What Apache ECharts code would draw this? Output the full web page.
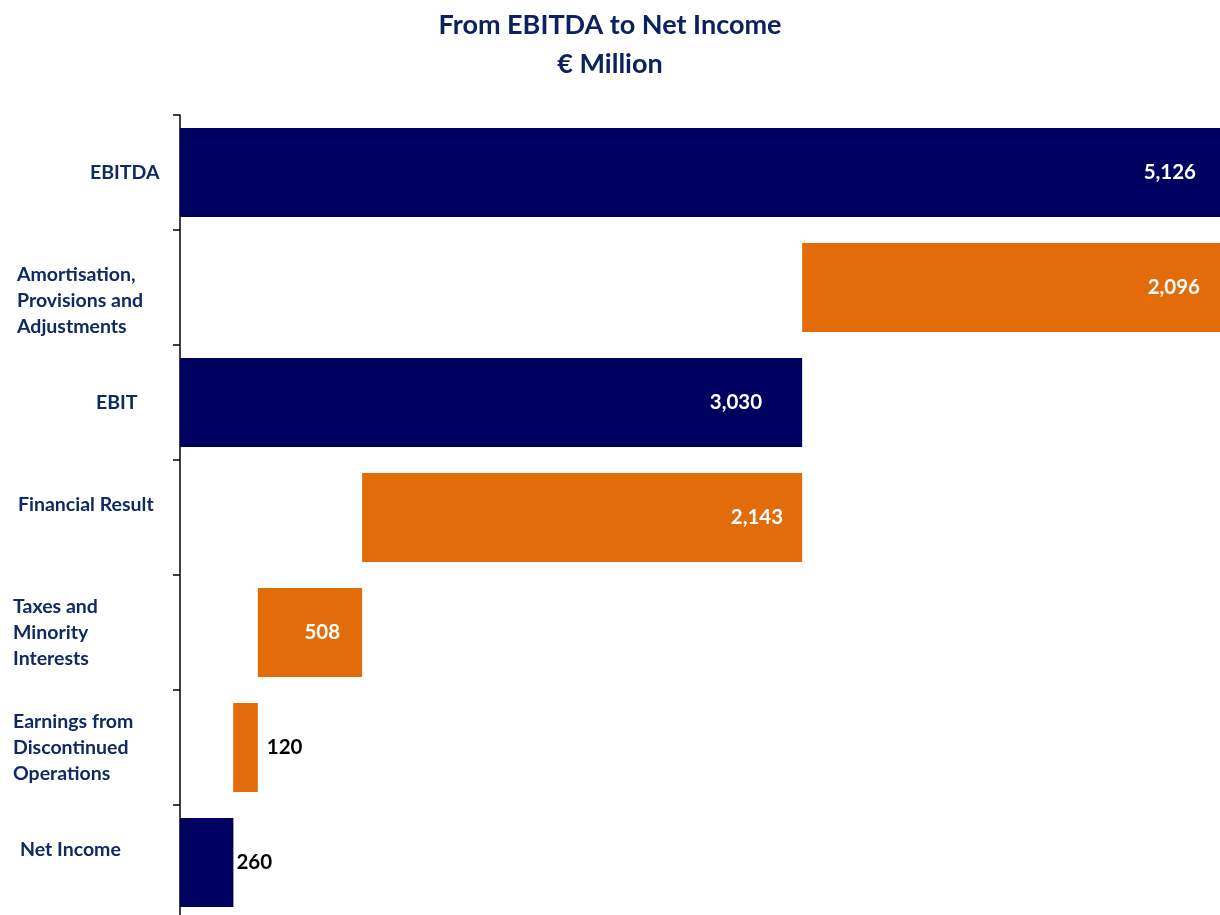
<!DOCTYPE html>
<html>
<head>
<meta charset="utf-8">
<title>From EBITDA to Net Income</title>
<script src="https://cdn.jsdelivr.net/npm/echarts@6/dist/echarts.min.js"></script>
<style>
  html, body { margin: 0; padding: 0; background: #fff; }
  #chart { width: 1220px; height: 915px; }
</style>
</head>
<body>
<div id="chart"></div>
<script>
// categories, top to bottom
const categories = [
  'EBITDA',
  'Amortisation,\nProvisions and\nAdjustments',
  'EBIT',
  'Financial Result',
  'Taxes and\nMinority\nInterests',
  'Earnings from\nDiscontinued\nOperations',
  'Net Income'
];
// step values (€ million)
const values = [5126, 2096, 3030, 2143, 508, 120, 260];
// 'total' bars start at zero, 'minus' bars step down from the running total
const kinds = ['total', 'minus', 'total', 'minus', 'minus', 'minus', 'total'];

const NAVY = '#000060';
const ORANGE = '#E36C0A';
const TEXT = '#0F2A63';

// invisible base for the waterfall
let running = 0;
const base = values.map((v, i) => {
  if (kinds[i] === 'total') { running = v; return 0; }
  running -= v;
  return running;
});

// per-bar label placement
const labelPos = ['insideRight', 'insideRight', 'insideRight', 'insideRight', 'insideRight', 'right', 'right'];
const labelDist = [24, 20, 40, 19, 22, 9, 3];
// left offsets of the category text boxes
const catPad = [78, 5, 84, 6, 1, 1, 8];
// half-line nudges of the category text: +1 down, -1 up
const catShift = [0, 1, 0, -1, 0, 0, -1];

const myChart = echarts.init(document.getElementById('chart'));
const option = {
  animation: false,
  title: {
    text: 'From EBITDA to Net Income\n€ Million',
    left: 'center',
    top: 1,
    textStyle: {
      fontFamily: 'Lato',
      fontWeight: 'bold',
      fontSize: 27,
      lineHeight: 39,
      color: '#0B2160'
    }
  },
  grid: { left: 180, right: 0, top: 115, bottom: -5, outerBoundsMode: 'none', containLabel: false },
  xAxis: {
    type: 'value',
    min: 0,
    max: 5065,
    show: false
  },
  yAxis: {
    type: 'category',
    inverse: true,
    data: categories.map((c, i) => ({
      value: c,
      textStyle: { align: 'left', padding: [0, 0, 0, catPad[i]] }
    })),
    axisLine: { show: true, lineStyle: { color: '#000', width: 1.5 } },
    axisTick: { show: true, length: 7, lineStyle: { color: '#000', width: 1.5 } },
    axisLabel: {
      align: 'left',
      margin: 168,
      fontFamily: 'Lato',
      fontWeight: 'bold',
      fontSize: 19.5,
      lineHeight: 26,
      color: TEXT,
      formatter: (v, i) => {
        if (catShift[i] > 0) return '\n' + v;
        if (catShift[i] < 0) return v + '\n';
        return v;
      }
    }
  },
  series: [
    {
      type: 'bar',
      stack: 'wf',
      silent: true,
      barWidth: 89,
      itemStyle: { color: 'transparent' },
      data: base
    },
    {
      type: 'bar',
      stack: 'wf',
      barWidth: 89,
      data: values.map((v, i) => {
        const outside = labelPos[i] === 'right';
        return {
          value: v,
          itemStyle: { color: kinds[i] === 'total' ? NAVY : ORANGE },
          label: {
            show: true,
            position: labelPos[i],
            distance: labelDist[i],
            color: outside ? '#000' : '#fff',
            fontFamily: 'Lato',
            fontWeight: 'bold',
            fontSize: 20.5,
            formatter: () => v.toLocaleString('en-US')
          }
        };
      })
    }
  ]
};
myChart.setOption(option);
window.onresize = function() {
  myChart.resize();
};
</script>
</body>
</html>
